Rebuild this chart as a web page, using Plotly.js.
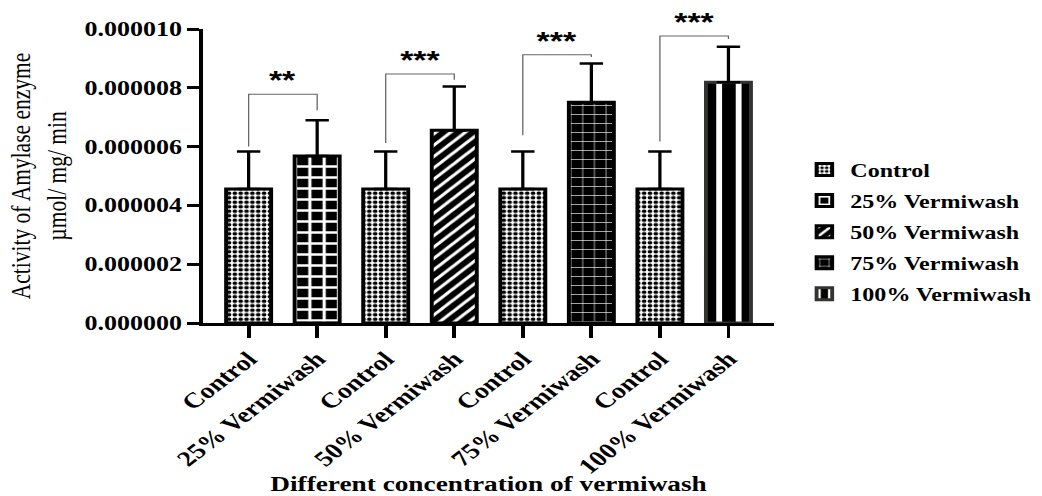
<!DOCTYPE html>
<html><head><meta charset="utf-8">
<script src="https://cdn.plot.ly/plotly-3.0.1.min.js"></script>
<style>
html,body{margin:0;padding:0;background:#fff;overflow:hidden;}
#wrap{width:1042px;height:496px;overflow:hidden;}
#chart{width:802px;height:496px;transform:scaleX(1.2993);transform-origin:0 0;}
</style></head><body><div id="wrap"><div id="chart"></div></div>
<script>
// ---- data ----
const tickLabels = ['Control','25% Vermiwash','Control','50% Vermiwash','Control','75% Vermiwash','Control','100% Vermiwash'];
const seriesNames = ['Control','25% Vermiwash','50% Vermiwash','75% Vermiwash','100% Vermiwash'];
const controlMean = [4.56e-6, 4.56e-6, 4.56e-6, 4.56e-6];
const controlErr  = [1.27e-6, 1.27e-6, 1.27e-6, 1.27e-6];
const treatMean   = [5.68e-6, 6.56e-6, 7.51e-6, 8.19e-6];
const treatErr    = [1.22e-6, 1.48e-6, 1.32e-6, 1.21e-6];
const sigLabels   = ['**', '***', '***', '***'];
const bracketTop      = [7.78e-6, 8.47e-6, 9.12e-6, 9.76e-6];
const bracketLeftEnd  = [6.00e-6, 6.12e-6, 6.39e-6, 6.17e-6];
const bracketRightEnd = [7.24e-6, 8.27e-6, 9.05e-6, 9.66e-6];
const yTicks = [0, 2e-6, 4e-6, 6e-6, 8e-6, 1e-5];

// ---- styles ----
const SERIF = 'Liberation Serif, Times New Roman, serif';
const BAR_W = 0.657;
const treatPatterns = [
  {shape:'+', fgcolor:'#ffffff', bgcolor:'#000000', size:11, solidity:0.4},
  {shape:'/', fgcolor:'#ffffff', bgcolor:'#000000', size:8,  solidity:0.35},
  {shape:'+', fgcolor:'#ffffff', bgcolor:'#000000', size:9,  solidity:0.12},
  {shape:'|', fgcolor:'#ffffff', bgcolor:'#000000', size:15, solidity:0.3}
];
const treatBorder = ['#000000','#000000','#000000','#333330'];

const ctrlX = controlMean.map((_, i) => 2 * i);
const treatX = treatMean.map((_, i) => 2 * i + 1);

const traces = [{
  type:'bar', name: seriesNames[0], legendgroup:'g0',
  x: ctrlX, y: controlMean, width: BAR_W,
  marker:{color:'#ffffff', line:{color:'#000', width:3},
          pattern:{shape:'.', fgcolor:'#000000', bgcolor:'#ffffff', size:4.5, solidity:0.5}},
  error_y:{type:'data', symmetric:false, array: controlErr, arrayminus: controlErr.map(() => 0),
           color:'#000', thickness:2.5, width:9}
}];
treatMean.forEach((v, i) => {
  traces.push({
    type:'bar', name: seriesNames[i + 1], legendgroup:'g' + (i + 1),
    x:[treatX[i]], y:[v], width: BAR_W,
    marker:{color:'#000000', line:{color: treatBorder[i], width:3}, pattern: treatPatterns[i]},
    error_y:{type:'data', symmetric:false, array:[treatErr[i]], arrayminus:[0],
             color:'#000', thickness:2.5, width:9}
  });
});

const shapes = sigLabels.map((_, i) => ({
  type:'path', xref:'x', yref:'y', layer:'above',
  path:`M ${ctrlX[i]},${bracketLeftEnd[i]} L ${ctrlX[i]},${bracketTop[i]} L ${treatX[i]},${bracketTop[i]} L ${treatX[i]},${bracketRightEnd[i]}`,
  line:{color:'#666666', width:1}
}));
const annotations = sigLabels.map((s, i) => ({
  x:(ctrlX[i] + treatX[i]) / 2, y: bracketTop[i], xref:'x', yref:'y',
  text: s, showarrow:false, yanchor:'bottom', yshift:-3,
  font:{family:'Liberation Sans, Arial, sans-serif', size:26, weight:'bold', color:'#000'}
}));

const layout = {
  width:802, height:496,
  margin:{l:156, r:206, t:29, b:173, autoexpand:false},
  paper_bgcolor:'#fff', plot_bgcolor:'#fff',
  barmode:'overlay', showlegend:true,
  font:{family:SERIF, color:'#000'},
  xaxis:{
    range:[-0.67, 7.67], tickmode:'array', tickvals: tickLabels.map((_, i) => i), ticktext: tickLabels,
    tickangle:-45, ticks:'outside', ticklen:12, tickwidth:3, tickcolor:'#000',
    showline:true, linewidth:3, linecolor:'#000', showgrid:false, zeroline:false,
    tickfont:{family:SERIF, size:21.5, weight:'bold', color:'#000'},
    title:{text:'Different concentration of vermiwash', standoff:17,
           font:{family:SERIF, size:21, weight:'bold', color:'#000'}},
    automargin:false, fixedrange:true
  },
  yaxis:{
    range:[0, 1e-5], tickmode:'array', tickvals: yTicks, tickformat:'.6f',
    ticks:'outside', ticklen:9, tickwidth:3, tickcolor:'#000',
    showline:true, linewidth:3, linecolor:'#000', showgrid:false, zeroline:false,
    tickfont:{family:SERIF, size:20, weight:'bold', color:'#000'},
    title:{text:'Activity of Amylase enzyme<br>µmol/ mg/ min', standoff:8,
           font:{family:SERIF, size:21.5, color:'#000'}},
    automargin:false, fixedrange:true
  },
  legend:{x:1.042, xanchor:'left', y:0.585, yanchor:'top', orientation:'v',
          tracegroupgap:4, traceorder:'grouped',
          font:{family:SERIF, size:18.5, weight:'bold', color:'#000'},
          bgcolor:'rgba(0,0,0,0)'},
  shapes: shapes,
  annotations: annotations
};

Plotly.newPlot('chart', traces, layout, {displayModeBar:false, staticPlot:true});
</script></body></html>
